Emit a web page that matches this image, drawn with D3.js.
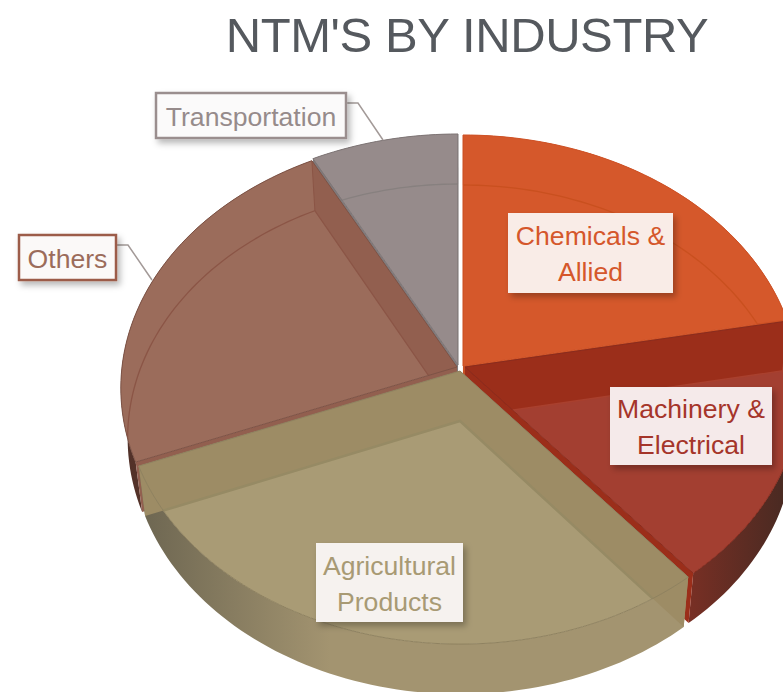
<!DOCTYPE html>
<html><head><meta charset="utf-8">
<script src="https://cdnjs.cloudflare.com/ajax/libs/d3/7.8.5/d3.min.js"></script>
<style>html,body{margin:0;background:#fff}svg{display:block;font-family:"Liberation Sans",Arial,sans-serif}</style>
</head><body><div id="c"></div>
<script>
// data
const categories = ["Chemicals & Allied","Machinery & Electrical","Agricultural Products","Others","Transportation"];
const shares = [22,17,30,23.3,7.7];
const chartTitle = "NTM'S BY INDUSTRY";
const labelLines = [["Chemicals &","Allied"],["Machinery &","Electrical"],["Agricultural","Products"],["Others"],["Transportation"]];

// styles, layout
const topFill  = ["#d5582b","#a33f31","#a69871","#9b6c5b","#968b8b"];
const wallFill = ["#c64f24","#9b2e1a","#9d8c65","#925f4f","#7f7a7c"];
const lineFill = ["#c9501f","#a9402e","#968a64","#8b5546","#87807f"];
const edgeFill = ["#cf5226","#8a2c1e","#8f8260","#7d5346","#7f7676"];
const sideDark = ["#8a3a1c","#4a2a22","#67614e","#4f3028","#5c5758"];
const sideLight= ["#b04a22","#9a3326","#a39470","#8a4a3a","#7f7a7c"];
const textFill = ["#d5572b","#a5352a","#a89a74","#9b6c5b","#968b8b"];
const boxFill  = ["#f9ece7","#f5eaea","#f6f2ef","#fbf9f8","#fbfafa"];
const explode  = [[2,-2],[4,-1],[-1,3],[-4,-1],[-3,-3]];
const drawOrder = [4,3,0,1,2];
const boxes = [[508,213,165,80],[610,387,162,78],[316,543,147,79],[19,235,97,45],[156,93,190,45]];
const boxStroke = [null,null,null,"#9c5c4a","#9a8e8e"];
const leaders = [null,null,null,[[116,245],[128,245],[152,280]],[[346,103],[358,103],[383,140]]];

const W=783,H=692,cx=461,cy=368,bx=335,ay=250.3,persp=0.0835,depth=50,baseScale=0.98;
const svg=d3.select("#c").append("svg").attr("width",W).attr("height",H);
const defs=svg.append("defs");
const f=defs.append("filter").attr("id","sh").attr("x","-20%").attr("y","-20%").attr("width","150%").attr("height","150%");
f.append("feDropShadow").attr("dx",3).attr("dy",4).attr("stdDeviation",3).attr("flood-color","#000").attr("flood-opacity",0.28);

const pie=d3.pie().sort(null).value(d=>d).startAngle(0).endAngle(2*Math.PI);
const arcs=pie(shares);
const line=d3.line();
const rScale=d3.scaleLinear().domain([0,1]).range([0,1]);
function P(a,r){const v=rScale(r),X=v*Math.sin(a),Y=v*Math.cos(a),w=1+persp*Y;return [cx+bx*X/w,cy-ay*Y/w];}
const base=p=>[cx+(p[0]-cx)*baseScale,p[1]+depth];

arcs.forEach((s,i)=>{
  const [ox,oy]=explode[i];
  const n=Math.max(8,Math.ceil((s.endAngle-s.startAngle)*40));
  const rim=d3.range(n+1).map(k=>{const a=s.startAngle+(s.endAngle-s.startAngle)*k/n,p=P(a,1);return [p[0]+ox,p[1]+oy];});
  const apex=[cx+ox,cy+oy];
  s.rim=rim;s.apex=apex;
  s.face=[apex,...rim];
  s.baseRim=rim.map(base);s.baseApex=base(apex);
  const g=defs.append("linearGradient").attr("id","side"+i).attr("gradientUnits","userSpaceOnUse")
    .attr("x1",i===1||i===0?783:120).attr("x2",i===1||i===0?620:330).attr("y1",0).attr("y2",0);
  g.append("stop").attr("offset",0).attr("stop-color",sideDark[i]);
  g.append("stop").attr("offset",1).attr("stop-color",sideLight[i]);
  defs.append("clipPath").attr("id","clip"+i).append("path").attr("d",line(s.face)+"Z");
});

const gS=svg.append("g");
drawOrder.forEach(i=>{
  const s=arcs[i];
  const g=gS.append("g").attr("class","slice");
  g.append("path").attr("d",line([...s.rim,...s.baseRim.slice().reverse()])+"Z").attr("fill",`url(#side${i})`);
  const first=s.rim[0],last=s.rim[s.rim.length-1];
  [first,last].forEach(p=>{
    g.append("path").attr("d",line([s.apex,p,base(p),s.baseApex])+"Z").attr("fill",wallFill[i]);
  });
  g.append("path").attr("d",line(s.face)+"Z").attr("fill",topFill[i]).attr("fill-opacity",i===2?0.97:1);
  const inner=g.append("g").attr("clip-path",`url(#clip${i})`);
  [first,last].forEach(p=>{
    inner.append("path").attr("d",line([s.apex,p,base(p),s.baseApex])+"Z").attr("fill",wallFill[i]);
  });
  inner.append("path").attr("d",line([s.baseApex,...s.baseRim])+"Z").attr("fill","none").attr("stroke",lineFill[i]).attr("stroke-width",i===2?2.5:1.3);
  [first,last].forEach(p=>{
    inner.append("path").attr("d",line([p,base(p)])).attr("stroke",lineFill[i]).attr("stroke-width",1);
  });
  g.append("path").attr("d",line(s.face)+"Z").attr("fill","none").attr("stroke",edgeFill[i]).attr("stroke-width",1);
});

// title
svg.append("text").attr("x",467).attr("y",52).attr("text-anchor","middle").attr("font-size",49).attr("fill","#55595e").attr("letter-spacing",-0.4).text(chartTitle);

// leaders and labels
const gL=svg.append("g");
categories.forEach((c,i)=>{
  if(leaders[i]) gL.append("path").attr("d",line(leaders[i])).attr("fill","none").attr("stroke","#a39a98").attr("stroke-width",1.5);
  const b=boxes[i];
  gL.append("rect").attr("x",b[0]).attr("y",b[1]).attr("width",b[2]).attr("height",b[3]).attr("fill",boxFill[i])
    .attr("stroke",boxStroke[i]||"none").attr("stroke-width",boxStroke[i]?2.5:0).attr("filter","url(#sh)");
  const lines=labelLines[i],mid=b[1]+b[3]/2;
  lines.forEach((t,k)=>{
    gL.append("text").attr("x",b[0]+b[2]/2).attr("y",mid+(k-(lines.length-1)/2)*36+10).attr("text-anchor","middle")
      .attr("font-size",26.6).attr("fill",textFill[i]).text(t);
  });
});
</script></body></html>
